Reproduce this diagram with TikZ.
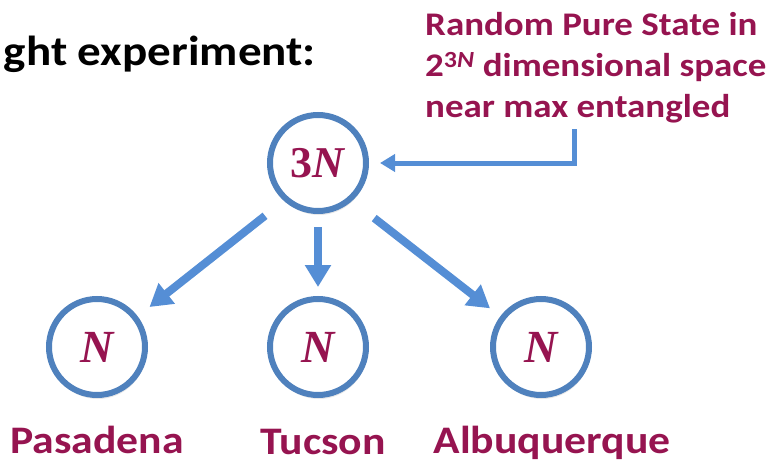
\documentclass[tikz,border=0pt]{standalone}
\usepackage{fontspec}
\usepackage{xcolor}
\usetikzlibrary{positioning,arrows.meta,shadows}
\newfontfamily\slidefont{Carlito}[FakeStretch=1.12]
\newfontfamily\mathlikefont{Liberation Serif}
\definecolor{plum}{RGB}{150,20,80}
\definecolor{ringblue}{RGB}{79,129,189}
\definecolor{arrowblue}{RGB}{85,142,213}

\begin{document}
\begin{tikzpicture}[x=1pt, y=-1pt,
  place/.style={circle, draw=ringblue, line width=6pt, fill=white, minimum size=96pt,
                inner sep=0pt, text=plum,
                drop shadow={shadow xshift=1pt, shadow yshift=-4pt, opacity=0.18}},
  link/.style={-{Triangle[length=22pt, width=25pt]}, line width=8pt, draw=arrowblue},
  pointer/.style={-{Triangle[length=15pt, width=17pt]}, line width=5pt, draw=arrowblue},
  city/.style={font=\slidefont\bfseries\fontsize{39pt}{44pt}\selectfont, text=plum, anchor=base, inner sep=0pt},
  note/.style={font=\slidefont\bfseries\fontsize{33pt}{41pt}\selectfont, text=plum, align=left,
               anchor=north west, inner sep=0pt}
]
\useasboundingbox (0,0) rectangle (774,463);

\node[font=\slidefont\bfseries\fontsize{42pt}{48pt}\selectfont, anchor=base east, inner sep=0pt]
  (title) at (316,65) {ght experiment:};

\node[place, font=\mathlikefont\bfseries\fontsize{44pt}{48pt}\selectfont] (whole) at (318,163) {3\textit{N}};
\node[place, font=\mathlikefont\bfseries\itshape\fontsize{46pt}{50pt}\selectfont] (pas) at (97,347) {N};
\node[place, font=\mathlikefont\bfseries\itshape\fontsize{46pt}{50pt}\selectfont] (tuc) at (318,347) {N};
\node[place, font=\mathlikefont\bfseries\itshape\fontsize{46pt}{50pt}\selectfont] (alb) at (541,347) {N};

\node[city] (pasname) at (97,453) {Pasadena};
\node[city] (tucname) at (323,454) {Tucson};
\node[city] (albname) at (552,453) {Albuquerque};

\node[note] (state) at (425,12) {Random Pure State in\\2\textsuperscript{3\textit{N}} dimensional space\\near max entangled};

\draw[link, shorten <=24pt, shorten >=15pt] (whole.228) -- (pas.37);
\draw[link, shorten <=13pt, shorten >=9pt] (whole.south) -- (tuc.north);
\draw[link, shorten <=28pt, shorten >=13pt] (whole.312) -- (alb.143);

\draw[pointer, shorten >=11pt] ([xshift=-21pt, yshift=-6pt]state.south) |- (whole.east);

\end{tikzpicture}
\end{document}
